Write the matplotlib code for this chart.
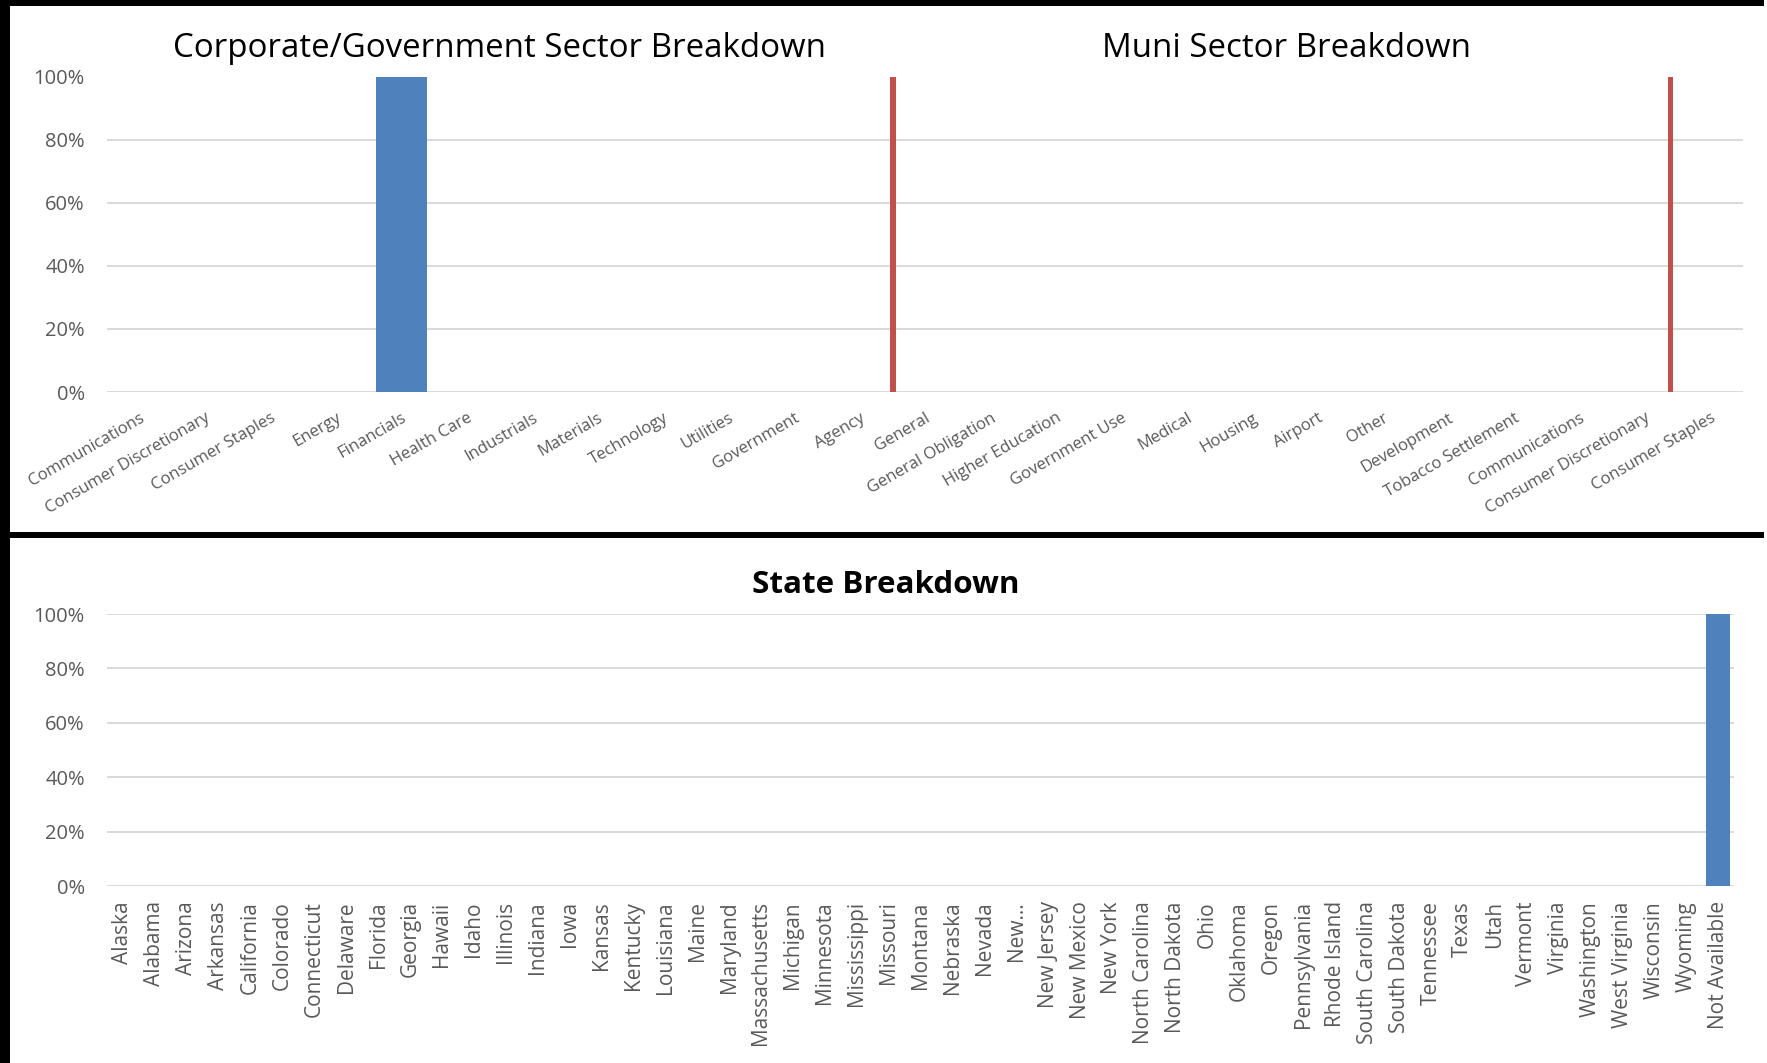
import matplotlib
matplotlib.use("Agg")
import matplotlib.pyplot as plt
from matplotlib.patches import Rectangle
from matplotlib.ticker import PercentFormatter, MultipleLocator

# sector / state breakdown data
corp_sectors = ["Communications", "Consumer Discretionary", "Consumer Staples", "Energy",
                "Financials", "Health Care", "Industrials", "Materials", "Technology",
                "Utilities", "Government", "Agency"]
corp_values = [0, 0, 0, 0, 1.0, 0, 0, 0, 0, 0, 0, 0]

muni_sectors = ["General", "General Obligation", "Higher Education", "Government Use",
                "Medical", "Housing", "Airport", "Other", "Development", "Tobacco Settlement",
                "Communications", "Consumer Discretionary", "Consumer Staples"]
muni_values = [1.0, 0, 0, 0, 0, 0, 0, 0, 0, 0, 0, 0, 1.0]

states = ["Alaska", "Alabama", "Arizona", "Arkansas", "California", "Colorado", "Connecticut",
          "Delaware", "Florida", "Georgia", "Hawaii", "Idaho", "Illinois", "Indiana", "Iowa",
          "Kansas", "Kentucky", "Louisiana", "Maine", "Maryland", "Massachusetts", "Michigan",
          "Minnesota", "Mississippi", "Missouri", "Montana", "Nebraska", "Nevada", "New...",
          "New Jersey", "New Mexico", "New York", "North Carolina", "North Dakota", "Ohio",
          "Oklahoma", "Oregon", "Pennsylvania", "Rhode Island", "South Carolina", "South Dakota",
          "Tennessee", "Texas", "Utah", "Vermont", "Virginia", "Washington", "West Virginia",
          "Wisconsin", "Wyoming", "Not Available"]
state_values = [0, 0, 0, 0, 0, 0, 0, 0, 0, 0, 0, 0, 0, 0, 0, 0, 0, 0, 0, 0, 0, 0, 0, 0, 0,
                0, 0, 0, 0, 0, 0, 0, 0, 0, 0, 0, 0, 0, 0, 0, 0, 0, 0, 0, 0, 0, 0, 0, 0, 0, 1.0]

BLUE = "#4F81BD"
RED = "#C0504D"
GRID = "#D9D9D9"
TICK = "#595959"

plt.rcParams["font.family"] = ["Open Sans", "DejaVu Sans"]

W, H = 1767, 1063
fig = plt.figure(figsize=(W / 100, H / 100), dpi=100)


def px(x0, y0, x1, y1):
    # pixel box (top-left origin) -> figure fraction rect
    return [x0 / W, 1 - y1 / H, (x1 - x0) / W, (y1 - y0) / H]


def style_axes(ax):
    for s in ax.spines.values():
        s.set_visible(False)
    ax.set_ylim(0, 1)
    ax.yaxis.set_major_locator(MultipleLocator(0.2))
    ax.yaxis.set_major_formatter(PercentFormatter(xmax=1, decimals=0))
    ax.yaxis.grid(True, color=GRID, lw=1.4)
    ax.set_axisbelow(True)
    ax.tick_params(axis="y", length=0, pad=16, labelsize=14.5, labelcolor=TICK)
    ax.tick_params(axis="x", length=0)


# top panel: corporate + muni sectors on one category axis
ax = fig.add_axes(px(107, 76.5, 1743, 392))
style_axes(ax)
all_sectors = corp_sectors + muni_sectors
ax.set_xlim(-0.5, len(all_sectors) - 0.5)
ax.bar(range(len(corp_values)), corp_values, width=0.78, color=BLUE)
ax.set_xticks(range(len(all_sectors)))
ax.set_xticklabels(all_sectors, rotation=30, ha="right", va="top",
                   rotation_mode="anchor", fontsize=12, color=TICK)
ax.tick_params(axis="x", pad=13)

# muni series on its own (secondary) category axis
axm = ax.twiny()
axm.set_xlim(-12.13, 13.12)
axm.bar(range(len(muni_values)), muni_values, width=0.09, color=RED)
axm.set_xticks([])
for s in axm.spines.values():
    s.set_visible(False)

# bottom panel: states
ax3 = fig.add_axes(px(107, 614, 1734, 886))
style_axes(ax3)
ax3.set_xlim(-0.5, len(states) - 0.5)
ax3.bar(range(len(state_values)), state_values, width=0.78, color=BLUE)
ax3.set_xticks(range(len(states)))
ax3.set_xticklabels(states, rotation=90, fontsize=15, color=TICK)
ax3.tick_params(axis="x", pad=11)

# titles
fig.text(499 / W, 1 - 57 / H, "Corporate/Government Sector Breakdown",
         ha="center", va="baseline", fontsize=23.8, color="black")
fig.text(1286 / W, 1 - 57 / H, "Muni Sector Breakdown",
         ha="center", va="baseline", fontsize=23.8, color="black")
fig.text(886 / W, 1 - 593 / H, "State Breakdown",
         ha="center", va="baseline", fontsize=22.6, fontweight="bold", color="black")

# black frame lines around the panels
for box in [(0, 0, 1764, 6), (0, 0, 10, H), (0, 532, 1764, 538)]:
    r = px(*box)
    fig.add_artist(Rectangle(r[:2], r[2], r[3], transform=fig.transFigure,
                             color="black", lw=0))

fig.savefig("out.png", dpi=100)
